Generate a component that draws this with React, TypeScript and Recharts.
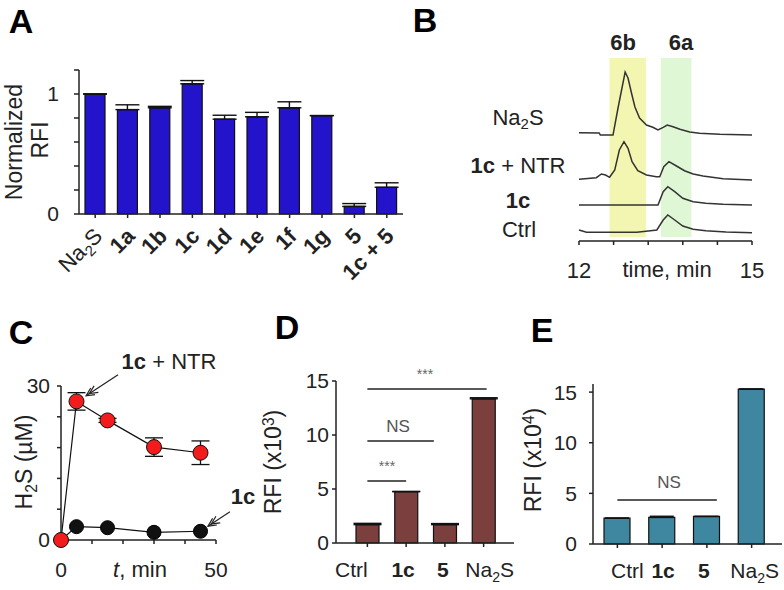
import React from 'react';
import {
  Bar,
  BarChart,
  ErrorBar,
  Line,
  LineChart,
  ReferenceArea,
  ReferenceLine,
  XAxis,
  YAxis,
} from 'recharts';

const FONT = '"Liberation Sans", Arial, Helvetica, sans-serif';
const INK = '#222';

// ---- panel A: normalized RFI per donor
const aCats = ['Na2S', '1a', '1b', '1c', '1d', '1e', '1f', '1g', '5', '1c + 5'];
const aVals = [1.0, 0.87, 0.885, 1.085, 0.79, 0.81, 0.885, 0.82, 0.063, 0.223];
const aErr = [0, 0.04, 0.012, 0.027, 0.033, 0.037, 0.05, 0, 0.024, 0.037];
const aYTicks = [0, 0.2, 0.4, 0.6, 0.8, 1, 1.2];

// ---- panel B: HPLC traces (time, min / signal, a.u.)
const bTicks = [12, 12.6, 13.2, 13.8, 14.4, 15];
const bNa2sT = [12.0, 12.35, 12.37, 12.59, 12.68, 12.8, 12.85, 12.91, 12.97, 13.05, 13.17, 13.28, 13.37, 13.46, 13.53, 13.63, 13.75, 13.92, 14.09, 14.44, 15.0];
const bNa2sV = [108.3, 108, 106, 106, 134, 169, 163, 148, 134, 123, 116, 113.7, 111, 113.7, 116, 114.3, 111.7, 109, 107.7, 106.7, 106];
const bNtrT = [12.0, 12.3, 12.39, 12.46, 12.53, 12.62, 12.7, 12.78, 12.85, 12.92, 13.02, 13.17, 13.34, 13.4, 13.47, 13.56, 13.69, 13.83, 13.98, 14.15, 14.5, 15.0];
const bNtrV = [61.7, 63.3, 67, 66, 63.7, 71, 91, 99.3, 92.7, 79.3, 70.3, 66, 64.3, 64.3, 74.3, 79.3, 75, 70.3, 67, 65, 62.3, 61];
const bProbeT = [12.0, 13.37, 13.46, 13.54, 13.66, 13.8, 13.98, 14.2, 14.5, 15.0];
const bProbeV = [36, 36, 49.3, 54.3, 49.3, 42.7, 39.3, 37.7, 36.7, 36];
const bCtrlT = [12.0, 12.13, 13.0, 13.2, 13.35, 13.46, 13.54, 13.66, 13.8, 13.98, 14.2, 14.55, 15.0];
const bCtrlV = [11, 8.7, 8.7, 10, 11, 21, 26, 21, 15, 11.7, 10.3, 9, 8.3];
const bPeak6b = [12.53, 13.16];
const bPeak6a = [13.42, 13.95];

// ---- panel C: H2S release
const cT = [0, 5, 15, 30, 45];
const cNtr = [0, 27.0, 23.3, 18.1, 17.0];
const cNtrErr = [0, 1.7, 0.4, 1.8, 2.3];
const cProbe = [0, 2.6, 2.4, 1.5, 1.7];
const cXTicks = [0, 10, 20, 30, 40, 50];
const cYTicks = [0, 6, 12, 18, 24, 30];

// ---- panel D: RFI (x10^3)
const dCats = ['Ctrl', '1c', '5', 'Na2S'];
const dVals = [1.7, 4.75, 1.7, 13.35];
const dErr = [0.12, 0.03, 0.1, 0.1];
const dTicks = [0, 5, 10, 15];

// ---- panel E: RFI (x10^4)
const eCats = ['Ctrl', '1c', '5', 'Na2S'];
const eVals = [2.55, 2.62, 2.72, 15.3];
const eErr = [0, 0.12, 0, 0];
const eTicks = [0, 5, 10, 15];

const pts = (t: number[], v: number[]) => t.map((x, i) => ({ t: x, v: v[i] }));

const axisLine = { stroke: INK, strokeWidth: 1.5 };
const tickLine = { stroke: INK, strokeWidth: 1.5 };
const tickFont = { fontSize: 21, fill: INK, fontFamily: FONT };

function Txt({ x, y, size = 22, bold = false, rotate = 0, color = INK, children }: any) {
  return (
    <div
      style={{
        position: 'absolute',
        left: x,
        top: y,
        transform: `translate(-50%, -50%)${rotate ? ` rotate(${rotate}deg)` : ''}`,
        fontSize: size,
        fontWeight: bold ? 700 : 400,
        fontFamily: FONT,
        color,
        lineHeight: 1,
        whiteSpace: 'nowrap',
      }}
    >
      {children}
    </div>
  );
}

const Sub = ({ children }: any) => (
  <span style={{ fontSize: '0.68em', position: 'relative', top: '0.3em' }}>{children}</span>
);
const Sup = ({ children }: any) => (
  <span style={{ fontSize: '0.68em', position: 'relative', top: '-0.45em' }}>{children}</span>
);

function Na2S({ small = 14 }: any) {
  return (
    <>
      Na<tspan fontSize={small} dy={5}>2</tspan><tspan dy={-5}>S</tspan>
    </>
  );
}

function ATick({ x, y, payload }: any) {
  const v = payload.value;
  return (
    <g transform={`translate(${x + 3},${y + 14})`}>
      <text
        transform="rotate(-45)"
        textAnchor="end"
        dy="0.35em"
        fontSize={22}
        fontFamily={FONT}
        fill={INK}
        fontWeight={v === 'Na2S' ? 400 : 700}
      >
        {v === 'Na2S' ? <Na2S small={15} /> : v}
      </text>
    </g>
  );
}

const makeBarTick = (nudge: number[]) =>
  function BarTick({ x, y, payload, index }: any) {
    const v = payload.value;
    const bold = v === '1c' || v === '5';
    return (
      <text
        x={x + nudge[index]}
        y={y}
        dy="0.71em"
        textAnchor="middle"
        fontSize={21}
        fontFamily={FONT}
        fill={INK}
        fontWeight={bold ? 700 : 400}
      >
        {v === 'Na2S' ? <Na2S /> : v}
      </text>
    );
  };

const DTick = makeBarTick([-16, -3, -2, 6]);
const ETick = makeBarTick([10, 1, -3, 3]);

function Arrow(p: any) {
  const { x1, y1, x2, y2 } = p;
  const ang = Math.atan2(y1 - y2, x1 - x2);
  const head = (off: number) => {
    const bx = x2 + Math.cos(ang) * off;
    const by = y2 + Math.sin(ang) * off;
    const L = 9;
    const a = 0.45;
    return `M${bx + Math.cos(ang + a) * L},${by + Math.sin(ang + a) * L} L${bx},${by} L${bx + Math.cos(ang - a) * L},${by + Math.sin(ang - a) * L}`;
  };
  return (
    <g>
      <line x1={x1} y1={y1} x2={x2} y2={y2} stroke={INK} strokeWidth={1.2} />
      <path d={`${head(0)} ${head(4)}`} fill="none" stroke={INK} strokeWidth={1.2} />
    </g>
  );
}

const sigLine = (extra: number) => (p: any) => (
  <line x1={p.x1} y1={p.y1} x2={p.x2 + extra} y2={p.y2} stroke={INK} strokeWidth={1.5} />
);

function PanelA() {
  const data = aCats.map((c, i) => ({ c, v: aVals[i], e: [0, aErr[i]] }));
  return (
    <div style={{ position: 'absolute', left: 0, top: 0 }}>
      <BarChart width={420} height={300} data={data} margin={{ top: 70, right: 17, bottom: 6, left: 34 }} barSize={20}>
        <XAxis dataKey="c" height={80} axisLine={axisLine} tickLine={tickLine} tickSize={4} tickMargin={0} tick={<ATick />} interval={0} />
        <YAxis
          width={45}
          domain={[0, 1.2]}
          ticks={aYTicks}
          tickFormatter={(v: number) => (v === 0 || v === 1 ? String(v) : '')}
          axisLine={axisLine}
          tickLine={tickLine}
          tickSize={5}
          tickMargin={15}
          tick={tickFont}
        />
        <Bar dataKey="v" fill="#2313cb" stroke="#111" strokeWidth={1.2} isAnimationActive={false}>
          <ErrorBar dataKey="e" width={12} stroke="#111" strokeWidth={1.4} />
        </Bar>
      </BarChart>
    </div>
  );
}

function PanelB() {
  return (
    <div style={{ position: 'absolute', left: 480, top: 0 }}>
      <LineChart width={300} height={300} margin={{ top: 58, right: 28, bottom: 19, left: 99 }}>
        <XAxis
          type="number"
          dataKey="t"
          domain={[12, 15]}
          ticks={bTicks}
          tickFormatter={(v: number) => (v === 12 || v === 15 ? String(v) : '')}
          height={40}
          axisLine={axisLine}
          tickLine={tickLine}
          tickSize={4}
          tickMargin={17}
          tick={{ ...tickFont, fontSize: 22 }}
          allowDuplicatedCategory={false}
        />
        <YAxis hide type="number" domain={[0, 183]} />
        <ReferenceArea x1={bPeak6b[0]} x2={bPeak6b[1]} y1={4} y2={183} fill="#f3f6b0" fillOpacity={1} stroke="none" ifOverflow="visible" />
        <ReferenceArea x1={bPeak6a[0]} x2={bPeak6a[1]} y1={4} y2={183} fill="#e0f7d6" fillOpacity={1} stroke="none" ifOverflow="visible" />
        <Line data={pts(bNa2sT, bNa2sV)} dataKey="v" stroke="#333" strokeWidth={1.5} dot={false} isAnimationActive={false} />
        <Line data={pts(bNtrT, bNtrV)} dataKey="v" stroke="#333" strokeWidth={1.5} dot={false} isAnimationActive={false} />
        <Line data={pts(bProbeT, bProbeV)} dataKey="v" stroke="#333" strokeWidth={1.5} dot={false} isAnimationActive={false} />
        <Line data={pts(bCtrlT, bCtrlV)} dataKey="v" stroke="#333" strokeWidth={1.5} dot={false} isAnimationActive={false} />
      </LineChart>
    </div>
  );
}

function PanelC() {
  const ntr = cT.map((t, i) => ({ t, v: cNtr[i], e: cNtrErr[i] }));
  const probe = cT.map((t, i) => ({ t, v: cProbe[i] }));
  return (
    <div style={{ position: 'absolute', left: 0, top: 290 }}>
      <LineChart width={260} height={300} margin={{ top: 96, right: 44, bottom: 10, left: 21 }}>
        <XAxis
          type="number"
          dataKey="t"
          domain={[0, 50]}
          ticks={cXTicks}
          tickFormatter={(v: number) => (v === 0 || v === 50 ? String(v) : '')}
          height={40}
          axisLine={axisLine}
          tickLine={tickLine}
          tickSize={4}
          tickMargin={18}
          tick={tickFont}
          allowDuplicatedCategory={false}
        />
        <YAxis
          type="number"
          width={40}
          domain={[0, 30]}
          ticks={cYTicks}
          tickFormatter={(v: number) => (v === 0 || v === 30 ? String(v) : '')}
          axisLine={axisLine}
          tickLine={tickLine}
          tickSize={4}
          tickMargin={7}
          tick={tickFont}
        />
        <ReferenceLine segment={[{ x: 18.4, y: 32.2 }, { x: 8.1, y: 28.1 }]} ifOverflow="visible" shape={Arrow} />
        <ReferenceLine segment={[{ x: 54.5, y: 5.5 }, { x: 47.4, y: 2.7 }]} ifOverflow="visible" shape={Arrow} />
        <Line
          data={probe}
          dataKey="v"
          stroke="#111"
          strokeWidth={1.2}
          dot={{ r: 7, fill: '#111', stroke: '#000', strokeWidth: 1 }}
          isAnimationActive={false}
        />
        <Line
          data={ntr}
          dataKey="v"
          stroke="#111"
          strokeWidth={1.2}
          dot={{ r: 7.5, fill: '#f21c1c', stroke: '#111', strokeWidth: 1 }}
          isAnimationActive={false}
        >
          <ErrorBar dataKey="e" width={9} stroke="#111" strokeWidth={1.3} direction="y" />
        </Line>
      </LineChart>
    </div>
  );
}

function PanelD() {
  const data = dCats.map((c, i) => ({ c, v: dVals[i], e: [0, dErr[i]] }));
  return (
    <div style={{ position: 'absolute', left: 260, top: 290 }}>
      <BarChart width={260} height={300} data={data} margin={{ top: 91, right: 6, bottom: 7, left: 26 }} barSize={23}>
        <XAxis
          dataKey="c"
          height={40}
          padding={{ left: 12, right: 11 }}
          axisLine={axisLine}
          tickLine={tickLine}
          tickSize={4}
          tickMargin={15}
          tick={<DTick />}
          interval={0}
        />
        <YAxis width={50} domain={[0, 15]} ticks={dTicks} axisLine={axisLine} tickLine={tickLine} tickSize={4} tickMargin={3} tick={tickFont} />
        <Bar dataKey="v" fill="#7b3f3e" stroke="#111" strokeWidth={1.2} isAnimationActive={false}>
          <ErrorBar dataKey="e" width={14} stroke="#111" strokeWidth={1.4} />
        </Bar>
        <ReferenceLine segment={[{ x: 'Ctrl', y: 14.25 }, { x: 'Na2S', y: 14.25 }]} ifOverflow="visible" shape={sigLine(3)} />
        <ReferenceLine segment={[{ x: 'Ctrl', y: 9.45 }, { x: '5', y: 9.45 }]} ifOverflow="visible" shape={sigLine(-11)} />
        <ReferenceLine segment={[{ x: 'Ctrl', y: 5.75 }, { x: '1c', y: 5.75 }]} ifOverflow="visible" shape={sigLine(0)} />
      </BarChart>
    </div>
  );
}

function PanelE() {
  const data = eCats.map((c, i) => ({ c, v: eVals[i], e: [0, eErr[i]] }));
  return (
    <div style={{ position: 'absolute', left: 520, top: 290 }}>
      <BarChart width={264} height={300} data={data} margin={{ top: 94, right: 2, bottom: 6, left: 23 }} barSize={26}>
        <XAxis
          dataKey="c"
          height={40}
          padding={{ left: 2, right: 8 }}
          axisLine={axisLine}
          tickLine={tickLine}
          tickSize={4}
          tickMargin={15}
          tick={<ETick />}
          interval={0}
        />
        <YAxis width={50} domain={[0, 15.8]} ticks={eTicks} axisLine={axisLine} tickLine={tickLine} tickSize={4} tickMargin={12} tick={tickFont} />
        <Bar dataKey="v" fill="#3f87a1" stroke="#111" strokeWidth={1.2} isAnimationActive={false}>
          <ErrorBar dataKey="e" width={12} stroke="#111" strokeWidth={1.4} />
        </Bar>
        <ReferenceLine segment={[{ x: 'Ctrl', y: 4.35 }, { x: '5', y: 4.35 }]} ifOverflow="visible" shape={sigLine(10)} />
      </BarChart>
    </div>
  );
}

export default function App() {
  return (
    <div
      style={{
        position: 'absolute',
        left: 0,
        top: 0,
        width: 784,
        height: 590,
        background: '#fff',
        overflow: 'hidden',
        fontFamily: FONT,
      }}
    >
      <PanelA />
      <PanelB />
      <PanelC />
      <PanelD />
      <PanelE />

      {/* panel letters */}
      <Txt x={21} y={21} size={34} bold color="#000">A</Txt>
      <Txt x={425} y={20} size={34} bold color="#000">B</Txt>
      <Txt x={21} y={332} size={34} bold color="#000">C</Txt>
      <Txt x={287} y={327} size={34} bold color="#000">D</Txt>
      <Txt x={542} y={330} size={34} bold color="#000">E</Txt>

      {/* A */}
      <Txt x={14} y={142} size={23} rotate={-90}>Normalized</Txt>
      <Txt x={40} y={140} size={23} rotate={-90}>RFI</Txt>

      {/* B */}
      <Txt x={623} y={43} bold>6b</Txt>
      <Txt x={681} y={43} bold>6a</Txt>
      <Txt x={518} y={118}>Na<Sub>2</Sub>S</Txt>
      <Txt x={518} y={166}><b>1c</b> + NTR</Txt>
      <Txt x={518} y={201} bold>1c</Txt>
      <Txt x={519} y={230}>Ctrl</Txt>
      <Txt x={667} y={270}>time, min</Txt>

      {/* C */}
      <Txt x={169} y={362}><b>1c</b> + NTR</Txt>
      <Txt x={243} y={497} bold>1c</Txt>
      <Txt x={140} y={570}><i>t</i>, min</Txt>
      <Txt x={24} y={462} size={23} rotate={-90}>H<Sub>2</Sub>S (µM)</Txt>

      {/* D */}
      <Txt x={425} y={374} size={14} color="#666">***</Txt>
      <Txt x={398} y={426} size={17} color="#555">NS</Txt>
      <Txt x={387} y={466} size={14} color="#666">***</Txt>
      <Txt x={273} y={462} size={23} rotate={-90}>RFI (x10<Sup>3</Sup>)</Txt>

      {/* E */}
      <Txt x={669} y={482} size={17} color="#555">NS</Txt>
      <Txt x={533} y={460} size={23} rotate={-90}>RFI (x10<Sup>4</Sup>)</Txt>
    </div>
  );
}
